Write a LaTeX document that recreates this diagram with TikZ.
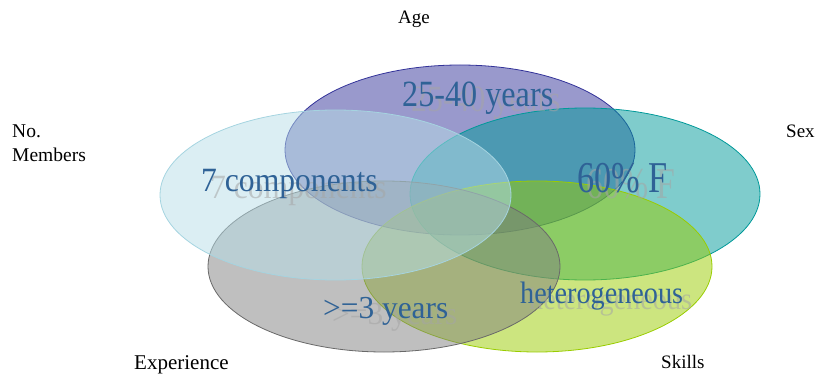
\documentclass[tikz,border=0pt]{standalone}
\usepackage{fontspec}
\setmainfont{Liberation Serif}[Ligatures=TeX]
\newfontfamily\tnr{Liberation Serif}
\definecolor{agecol}{RGB}{51,51,153}
\definecolor{memcol}{RGB}{183,222,232}
\definecolor{memline}{RGB}{165,212,224}
\definecolor{sexcol}{RGB}{0,153,153}
\definecolor{skillcol}{RGB}{153,204,0}
\definecolor{expcol}{RGB}{127,127,127}
\definecolor{expline}{RGB}{105,105,105}
\definecolor{txtblue}{RGB}{47,98,150}
\definecolor{shadowcol}{RGB}{165,165,165}
\tikzset{
  venn/.style={fill opacity=0.5, line width=0.8pt},
  lab/.style={font=\tnr\fontsize{19}{24}\selectfont, text=black, inner sep=0pt, anchor=base west},
  bigtxt/.style={text=txtblue, inner sep=0pt, anchor=base west},
  shadowtxt/.style={text=shadowcol, text opacity=0.55, inner sep=0pt, anchor=base west},
}
\begin{document}
\begin{tikzpicture}[x=1pt,y=-1pt]
\useasboundingbox (0,0) rectangle (816,374);
% ellipses (SmartArt order)
\draw[venn, draw=agecol, fill=agecol] (460,150) ellipse [x radius=175, y radius=85];
\draw[venn, draw=sexcol, fill=sexcol] (585,194) ellipse [x radius=175, y radius=86];
\draw[venn, draw=skillcol, fill=skillcol] (537,266.5) ellipse [x radius=175, y radius=85.5];
\draw[venn, draw=expline, fill=expcol] (384,266.5) ellipse [x radius=176, y radius=85.5];
\draw[venn, draw=memline, fill=memcol] (335.5,195) ellipse [x radius=175.5, y radius=85];
% shadows
\node[shadowtxt, font=\tnr\fontsize{37}{37}\selectfont] (s1) at (411,112) {\scalebox{0.86}[1]{25-40 years}};
\node[shadowtxt, font=\tnr\fontsize{34}{34}\selectfont] (s2) at (210,198) {\scalebox{0.93}[1]{7 components}};
\node[shadowtxt, font=\tnr\fontsize{44}{44}\selectfont] (s3) at (586,199) {\scalebox{0.77}[1]{60\% F}};
\node[shadowtxt, font=\tnr\fontsize{32}{32}\selectfont] (s4) at (332,324) {\scalebox{0.98}[1]{>=3 years}};
\node[shadowtxt, font=\tnr\fontsize{31}{31}\selectfont] (s5) at (529,309) {\scalebox{0.91}[1]{heterogeneous}};
% main texts
\node[bigtxt, font=\tnr\fontsize{37}{37}\selectfont] (t1) at (402,107) {\scalebox{0.87}[1]{25-40 years}};
\node[bigtxt, font=\tnr\fontsize{34}{34}\selectfont] (t2) at (201,192) {\scalebox{0.93}[1]{7 components}};
\node[bigtxt, font=\tnr\fontsize{44}{44}\selectfont] (t3) at (577,193) {\scalebox{0.78}[1]{60\% F}};
\node[bigtxt, font=\tnr\fontsize{32}{32}\selectfont] (t4) at (323,318) {\scalebox{0.98}[1]{>=3 years}};
\node[bigtxt, font=\tnr\fontsize{31}{31}\selectfont] (t5) at (520,303) {\scalebox{0.91}[1]{heterogeneous}};
% labels
\node[lab, anchor=base] (age) at (414,24) {Age};
\node[lab, font=\tnr\fontsize{19.5}{24}\selectfont] (mem1) at (12,138) {No.};
\node[lab, font=\tnr\fontsize{19.5}{24}\selectfont] (mem2) at (12,162) {Members};
\node[lab] (sex) at (786,138) {Sex};
\node[lab, font=\tnr\fontsize{21}{24}\selectfont] (exp) at (134,369) {Experience};
\node[lab] (skills) at (661,368) {Skills};
\end{tikzpicture}
\end{document}
